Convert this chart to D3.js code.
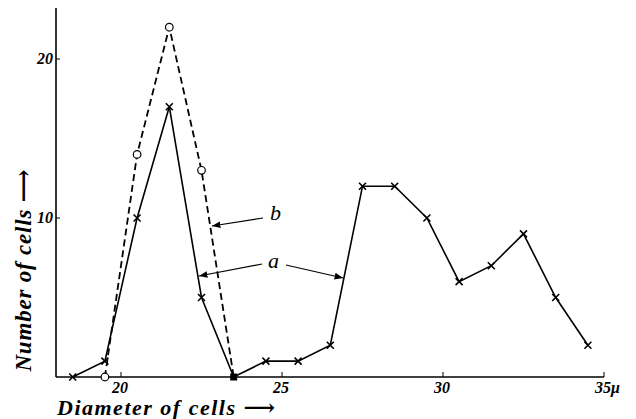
<!DOCTYPE html>
<html><head><meta charset="utf-8">
<script src="https://cdn.jsdelivr.net/npm/d3@7"></script>
<style>body{margin:0;background:#fff}text{font-family:"Liberation Serif","DejaVu Serif",serif;font-style:italic;fill:#000}</style>
</head><body>
<svg id="c" width="636" height="419"></svg>
<script>
const diamA = [18.5,19.5,20.5,21.5,22.5,23.5,24.5,25.5,26.5,27.5,28.5,29.5,30.5,31.5,32.5,33.5,34.5];
const countA = [0,1,10,17,5,0,1,1,2,12,12,10,6,7,9,5,2];
const diamB = [19.5,20.5,21.5,22.5,23.5];
const countB = [0,14,22,13,0];
const xTicks = [20,25,30,35];
const xTickLabels = ["20","25","30","35μ"];
const yTicks = [10,20];

const svg = d3.select("#c");
const x = d3.scaleLinear().domain([20,35]).range([121,604]);
const y = d3.scaleLinear().domain([0,10]).range([377,218]);
const x0 = 56;

// axes
svg.append("line").attr("x1",x0).attr("x2",x0).attr("y1",8).attr("y2",y(0)).attr("stroke","#000").attr("stroke-width",1.6);
svg.append("line").attr("x1",x0).attr("x2",x(35)).attr("y1",y(0)).attr("y2",y(0)).attr("stroke","#000").attr("stroke-width",1.6);
xTicks.forEach((t,i)=>{
  svg.append("line").attr("x1",x(t)).attr("x2",x(t)).attr("y1",y(0)).attr("y2",y(0)-5).attr("stroke","#000").attr("stroke-width",1);
  const lab = xTickLabels[i];
  svg.append("text").attr("x",x(t)).attr("y",393).attr("text-anchor",lab.length>2?"start":"middle")
    .attr("dx",lab.length>2?-9:-1).attr("font-size",16).attr("font-weight","bold").text(lab);
});
yTicks.forEach(t=>{
  svg.append("line").attr("x1",x0).attr("x2",x0+4).attr("y1",y(t)).attr("y2",y(t)).attr("stroke","#000").attr("stroke-width",1);
  svg.append("text").attr("x",x0-3).attr("y",y(t)+5).attr("text-anchor","end").attr("font-size",16).attr("font-weight","bold").text(t);
});

// axis titles
svg.append("text").attr("x",57).attr("y",415).attr("font-size",22).attr("letter-spacing",1.5).attr("font-weight","bold").text("Diameter of cells ⟶");
svg.append("text").attr("transform","translate(31,270) rotate(-90)").attr("text-anchor","middle").attr("font-size",23).attr("letter-spacing",0.8).attr("font-weight","bold").text("Number of cells ⟶");

const line = d3.line().x(d=>x(d[0])).y(d=>y(d[1]));
const dataA = diamA.map((d,i)=>[d,countA[i]]);
const dataB = diamB.map((d,i)=>[d,countB[i]]);

svg.append("path").datum(dataB).attr("d",line).attr("fill","none").attr("stroke","#000").attr("stroke-width",1.8).attr("stroke-dasharray","7,4");
svg.append("path").datum(dataA).attr("d",line).attr("fill","none").attr("stroke","#000").attr("stroke-width",1.6);

// markers
const s = 3.5;
dataA.forEach(d=>{
  if (d[0]===23.5) return;
  const cx=x(d[0]), cy=y(d[1]);
  svg.append("path").attr("d",`M${cx-s},${cy-s}L${cx+s},${cy+s}M${cx-s},${cy+s}L${cx+s},${cy-s}`).attr("stroke","#000").attr("stroke-width",1.6);
});
dataB.forEach(d=>{
  if (d[0]===23.5) return;
  svg.append("circle").attr("cx",x(d[0])).attr("cy",y(d[1])).attr("r",3.8).attr("fill","#fff").attr("stroke","#000").attr("stroke-width",1.2);
});
svg.append("rect").attr("x",x(23.5)-3.5).attr("y",y(0)-3.5).attr("width",7).attr("height",7).attr("fill","#000");

// annotations
const defs = svg.append("defs");
defs.append("marker").attr("id","ar").attr("viewBox","0 0 10 10").attr("refX",10).attr("refY",5)
  .attr("markerWidth",7).attr("markerHeight",7).attr("orient","auto-start-reverse")
  .append("path").attr("d","M0,1L10,5L0,9Z").attr("fill","#000");
svg.append("text").attr("x",270).attr("y",220).attr("font-size",22).text("b");
svg.append("line").attr("x1",263).attr("y1",218).attr("x2",212).attr("y2",226).attr("stroke","#000").attr("stroke-width",1.2).attr("marker-end","url(#ar)");
svg.append("text").attr("x",268).attr("y",268).attr("font-size",22).text("a");
svg.append("line").attr("x1",262).attr("y1",264).attr("x2",199).attr("y2",276).attr("stroke","#000").attr("stroke-width",1.2).attr("marker-end","url(#ar)");
svg.append("line").attr("x1",286).attr("y1",265).attr("x2",343).attr("y2",278).attr("stroke","#000").attr("stroke-width",1.2).attr("marker-end","url(#ar)");
</script>
</body></html>
